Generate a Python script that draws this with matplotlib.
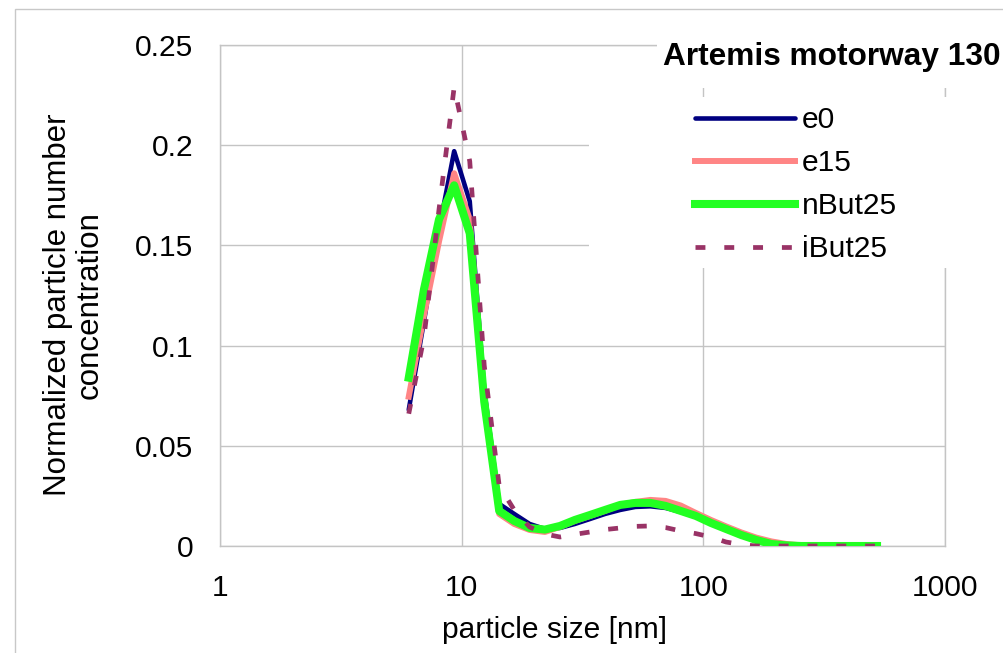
import matplotlib
matplotlib.use("Agg")
import matplotlib.pyplot as plt
from matplotlib.patches import Rectangle
from matplotlib.ticker import FixedLocator, NullLocator

plt.rcParams['font.family'] = ['Liberation Sans', 'DejaVu Sans']

# particle size classes [nm]
size_nm = [6.04, 6.98, 8.06, 9.31, 10.8, 12.4, 14.3, 16.5, 19.1, 22.1, 25.5,
           29.4, 34.0, 39.2, 45.3, 52.3, 60.4, 69.8, 80.6, 93.1, 107.5, 124.1,
           143.3, 165.5, 191.1, 220.7, 254.8, 294.3, 339.8, 392.4, 453.2, 523.3]

e0 = [0.068, 0.112, 0.158, 0.197, 0.172, 0.078, 0.021, 0.016, 0.011, 0.0085,
      0.009, 0.011, 0.0135, 0.016, 0.018, 0.0195, 0.0198, 0.019, 0.017, 0.0145,
      0.0115, 0.0085, 0.0055, 0.003, 0.001, 0.0003, 0, 0, 0, 0, 0, 0]

e15 = [0.0745, 0.115, 0.152, 0.186, 0.163, 0.074, 0.016, 0.011, 0.008, 0.007,
       0.0095, 0.0125, 0.015, 0.0175, 0.0205, 0.022, 0.023, 0.0225, 0.0202,
       0.0165, 0.013, 0.0098, 0.0068, 0.0042, 0.0023, 0.001, 0.0003, 0, 0, 0, 0, 0]

nBut25 = [0.084, 0.128, 0.163, 0.180, 0.156, 0.072, 0.0175, 0.0125, 0.009,
          0.0082, 0.010, 0.013, 0.0155, 0.018, 0.0205, 0.0215, 0.0215, 0.020,
          0.0175, 0.015, 0.0115, 0.0085, 0.0055, 0.003, 0.001, 0.0003, 0, 0, 0, 0, 0, 0]

iBut25 = [0.066, 0.104, 0.168, 0.229, 0.192, 0.090, 0.030, 0.018, 0.0095,
          0.006, 0.0045, 0.0058, 0.007, 0.0082, 0.009, 0.0098, 0.010, 0.0092,
          0.0075, 0.0062, 0.0045, 0.002, 0.0007, 0, 0, 0, 0, 0, 0, 0, 0, 0]

x_ticks = [1, 10, 100, 1000]
x_ticklabels = ["1", "10", "100", "1000"]
y_ticks = [0, 0.05, 0.1, 0.15, 0.2, 0.25]
y_ticklabels = ["0", "0.05", "0.1", "0.15", "0.2", "0.25"]

W, H = 1004, 653
FS = 21.6
GRID = '#c4c4c4'


def fx(px):
    return px / W


def fy(py):
    return 1 - py / H


fig = plt.figure(figsize=(W / 100, H / 100), dpi=100)
ax = fig.add_axes([fx(220), fy(546), fx(945) - fx(220), fy(45) - fy(546)])

ax.plot(size_nm, e0, color='#000080', lw=3.3, solid_capstyle='round',
        solid_joinstyle='round', label='e0', zorder=3)
ax.plot(size_nm, e15, color='#ff8585', lw=4.3, solid_joinstyle='round',
        label='e15', zorder=4)
ax.plot(size_nm, nBut25, color='#22ff22', lw=5.8, solid_joinstyle='round',
        label='nBut25', zorder=5)
ax.plot(size_nm, iBut25, color='#993366', lw=3.4, linestyle=(0, (2.1, 4.0)),
        dash_capstyle='butt', label='iBut25', zorder=6)

ax.set_xscale('log')
ax.set_xlim(1, 1000)
ax.set_ylim(0, 0.25)
ax.xaxis.set_major_locator(FixedLocator(x_ticks))
ax.xaxis.set_minor_locator(NullLocator())
ax.set_xticklabels(x_ticklabels)
ax.set_yticks(y_ticks)
ax.set_yticklabels(y_ticklabels)
ax.tick_params(axis='both', length=0, labelsize=FS)
ax.tick_params(axis='y', pad=19.4)
ax.tick_params(axis='x', pad=20)
ax.grid(True, color=GRID, lw=1.0)
ax.set_axisbelow(True)
for s in ax.spines.values():
    s.set_color(GRID)
    s.set_linewidth(1.0)

# axis titles
fig.text(fx(555), fy(638), 'particle size [nm]', fontsize=FS,
         ha='center', va='baseline')
fig.text(fx(74), fy(305), 'Normalized particle number\nconcentration',
         fontsize=22.5, rotation=90, ha='center', va='center',
         multialignment='center', linespacing=1.05)

# outer chart border
fig.add_artist(Rectangle((fx(15), fy(660)), fx(1010) - fx(15), fy(9) - fy(660),
                         transform=fig.transFigure, fill=False,
                         edgecolor='#c8c8c8', lw=1.0))

# white boxes behind title and legend
fig.add_artist(Rectangle((fx(657), fy(88)), fx(1010) - fx(657), fy(30) - fy(88),
                         transform=fig.transFigure, facecolor='white',
                         edgecolor='none', zorder=2))
fig.add_artist(Rectangle((fx(589), fy(268)), fx(1010) - fx(589), fy(97) - fy(268),
                         transform=fig.transFigure, facecolor='white',
                         edgecolor='none', zorder=2))

fig.text(fx(663), fy(65), 'Artemis motorway 130', fontsize=22.8,
         fontweight='bold', ha='left', va='baseline', zorder=3)

handles, labels = ax.get_legend_handles_labels()
leg = fig.legend(handles, labels, loc='upper left',
                 bbox_to_anchor=(fx(695), fy(106)), frameon=False,
                 borderpad=0, borderaxespad=0, handlelength=3.33,
                 handletextpad=0.23, labelspacing=0.5, fontsize=FS)
leg.set_zorder(3)

fig.savefig('out.png', dpi=100)
